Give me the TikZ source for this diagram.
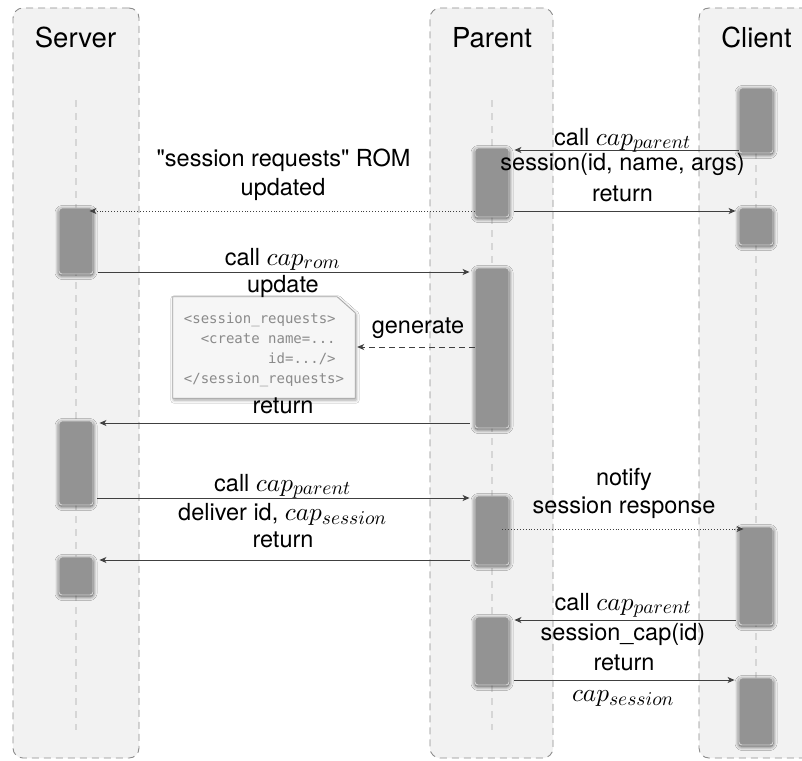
\documentclass[tikz,border=0pt]{standalone}
\usepackage{fontspec}
\setmainfont{TeX Gyre Heros}
\newfontfamily\plainquotes{TeX Gyre Heros}[Ligatures=TeXOff]
\setmonofont{DejaVu Sans Mono}
\DeclareFontShape{OML}{cmm}{m}{it}{<->cmmi10}{}
\DeclareMathSizes{23.5}{25.3}{19.5}{15}
\usetikzlibrary{arrows.meta,calc,shadows.blur}
\definecolor{lanefill}{HTML}{F2F2F2}
\definecolor{laneborder}{HTML}{8C8C8C}
\definecolor{lifecol}{HTML}{D6D6D6}
\definecolor{actfill}{HTML}{939393}
\definecolor{arrowcol}{HTML}{404040}
\definecolor{notetextcol}{HTML}{8A8A8A}
\definecolor{notefill}{HTML}{F6F6F6}
\begin{document}
\begin{tikzpicture}[x=1pt,y=-1pt,
  lane/.style={draw=laneborder, fill=lanefill, dash pattern=on 7pt off 5pt, line width=0.9pt, rounded corners=10pt, inner sep=0pt},
  life/.style={draw=lifecol, line width=1.4pt, dash pattern=on 7pt off 6pt},
  act/.style={draw=gray!35, fill=actfill, line width=0.9pt, rounded corners=3pt, minimum width=34pt, inner sep=0pt,
    blur shadow={shadow blur steps=8, shadow xshift=0pt, shadow yshift=-1.5pt, shadow blur radius=4pt, shadow opacity=70}},
  title/.style={font=\fontsize{27.5}{33}\selectfont, anchor=base, inner sep=0pt},
  lbl/.style={font=\fontsize{23.5}{28}\selectfont, anchor=base, inner sep=0pt},
  arr/.style={draw=arrowcol, line width=0.9pt, -{Stealth[length=7pt, width=6pt, inset=2pt]}},
  dotarr/.style={arr, dotted},
  dasharr/.style={arr, dash pattern=on 6pt off 4pt},
  notebox/.style={draw=gray!70, fill=notefill, line width=0.8pt,
    blur shadow={shadow blur steps=6, shadow xshift=1pt, shadow yshift=-2pt, shadow blur radius=3pt, shadow opacity=35}},
  notetext/.style={font=\ttfamily\fontsize{14}{20}\selectfont, text=notetextcol, align=left, inner sep=0pt}
]
\useasboundingbox (0,0) rectangle (802,760);
\fill[white] (0,0) rectangle (802,760);

% lanes
\node[lane, minimum width=126pt, minimum height=750pt] (serverlane) at (76,383) {};
\node[lane, minimum width=123pt, minimum height=750pt] (parentlane) at (491.5,383) {};
\node[lane, minimum width=141pt, minimum height=750pt] (clientlane) at (769.5,383) {};

\node[title] (servert) at (75.5,47.5) {Server};
\node[title] (parentt) at (492,47.5) {Parent};
\node[title] (clientt) at (756.5,47.5) {Client};

% lifelines
\coordinate (sl0) at (76,100);  \coordinate (sl1) at (76,730);
\coordinate (pl0) at (492,100); \coordinate (pl1) at (492,730);
\coordinate (cl0) at (756,100); \coordinate (cl1) at (756,730);
\draw[life] (sl0) -- (sl1);
\draw[life] (pl0) -- (pl1);
\draw[life] (cl0) -- (cl1);

% activation boxes
\node[act, minimum height=65pt]  (cb1) at (756,120.5) {};
\node[act, minimum height=37pt]  (cb2) at (756,226.5) {};
\node[act, minimum height=98pt]  (cb3) at (756,576) {};
\node[act, minimum height=67pt]  (cb4) at (756,711.5) {};
\node[act, minimum height=69pt]  (pb1) at (492,182.5) {};
\node[act, minimum height=160pt] (pb2) at (492,348) {};
\node[act, minimum height=69pt]  (pb3) at (492,530.5) {};
\node[act, minimum height=68pt]  (pb4) at (492,651) {};
\node[act, minimum height=66pt]  (sb1) at (76,241) {};
\node[act, minimum height=84pt]  (sb2) at (76,463) {};
\node[act, minimum height=38pt]  (sb3) at (76,576) {};

% note
\node[minimum width=182pt, minimum height=101pt, inner sep=0pt] (notebg) at (264,347.5) {};
\path[notebox] (notebg.south west) -- (notebg.north west) -- ($(notebg.north east)+(-18,0)$)
   -- ($(notebg.north east)+(0,16)$) -- (notebg.south east) -- cycle;
\node[notetext] (note) at (264,350) {<session\_requests>\\
\phantom{xx}<create name=...\\
\phantom{xxxxxxxxxx}id=.../>\\
</session\_requests>};

% messages
\draw[arr] (cb1.west |- 0,150) -- ($(pb1.east |- 0,150)+(5,0)$);
\node[lbl] (m1a) at (622.5,145) {call $cap_{parent}$};
\node[lbl] (m1b) at (622.5,170) {session(id, name, args)};

\draw[arr] ($(pb1.east |- 0,211)+(5,0)$) -- ($(cb2.west |- 0,211)+(-3,0)$);
\node[lbl] (m2) at (622.5,201) {return};

\draw[dotarr] (pb1.west |- 0,211) -- ($(sb1.east |- 0,211)+(-4,0)$);
\node[lbl] (m3a) at (283.5,166) {\plainquotes "session requests" ROM};
\node[lbl] (m3b) at (283,195) {updated};

\draw[arr] ($(sb1.east |- 0,272)+(5,0)$) -- ($(pb2.west |- 0,272)+(-5,0)$);
\node[lbl] (m4a) at (282.5,265) {call $cap_{rom}$};
\node[lbl] (m4b) at (283,292) {update};

\draw[dasharr] (pb2.west |- 0,347) -- ($(notebg.east |- 0,347)+(2,0)$);
\node[lbl] (m5) at (418,333) {generate};

\draw[arr] ($(pb2.west |- 0,423)+(-5,0)$) -- ($(sb2.east |- 0,423)+(6,0)$);
\node[lbl] (m6) at (283,413) {return};

\draw[arr] ($(sb2.east |- 0,498)+(4,0)$) -- ($(pb3.west |- 0,498)+(-5,0)$);
\node[lbl] (m7a) at (282.5,491) {call $cap_{parent}$};
\node[lbl] (m7b) at (282.5,520) {deliver id, $cap_{session}$};
\node[lbl] (m8) at (283,547) {return};
\draw[arr] ($(pb3.west |- 0,560)+(-5,0)$) -- ($(sb3.east |- 0,560)+(6,0)$);

\draw[dotarr] ($(pb3.east |- 0,529)+(-7,0)$) -- ($(cb3.west |- 0,529)+(5,0)$);
\node[lbl] (m9a) at (624,485) {notify};
\node[lbl] (m9b) at (624,513) {session response};

\draw[arr] ($(cb3.west |- 0,620)+(-3,0)$) -- ($(pb4.east |- 0,620)+(5,0)$);
\node[lbl] (m10a) at (623,610) {call $cap_{parent}$};
\node[lbl] (m10b) at (623,640) {session\_cap(id)};

\draw[arr] ($(pb4.east |- 0,680)+(5,0)$) -- ($(cb4.west |- 0,680)+(-4,0)$);
\node[lbl] (m11a) at (624,670) {return};
\node[lbl] (m11b) at (623,701) {$cap_{session}$};
\end{tikzpicture}
\end{document}
